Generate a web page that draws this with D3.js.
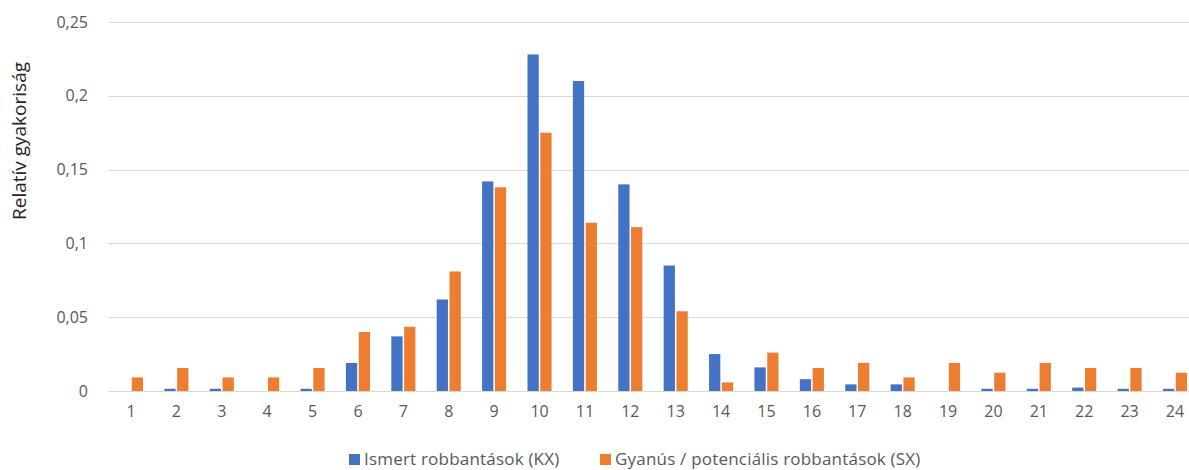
<!DOCTYPE html>
<html>
<head>
<meta charset="utf-8">
<script src="https://cdn.jsdelivr.net/npm/d3@7"></script>
<style>
  html, body { margin: 0; padding: 0; background: #fff; overflow: hidden; }
  svg { display: block; font-family: "Open Sans", "Noto Sans", sans-serif; }
</style>
</head>
<body>
<svg id="chart" width="1189" height="470"></svg>
<script>
const categories = ["1","2","3","4","5","6","7","8","9","10","11","12","13","14","15","16","17","18","19","20","21","22","23","24"];
const seriesNames = ["Ismert robbantások (KX)", "Gyanús / potenciális robbantások (SX)"];
const knownKX = [0, 0.0015, 0.0015, 0, 0.0015, 0.019, 0.037, 0.062, 0.142, 0.228, 0.210, 0.140, 0.085, 0.025, 0.016, 0.008, 0.0045, 0.0045, 0, 0.0015, 0.0015, 0.0023, 0.0015, 0.0015];
const suspectSX = [0.0092, 0.0156, 0.0092, 0.0092, 0.0156, 0.040, 0.0435, 0.081, 0.138, 0.175, 0.114, 0.111, 0.054, 0.0058, 0.026, 0.0156, 0.019, 0.0092, 0.019, 0.0124, 0.019, 0.0156, 0.0156, 0.0124];
const yTicks = [0, 0.05, 0.1, 0.15, 0.2, 0.25];
const yLabel = "Relatív gyakoriság";
const colors = ["#4472C4", "#ED7D31"];

(function () {
const svg = d3.select("#chart");
const W = 1189;
const mLeft = 108.3, mRight = 1197.7, mTop = 22, mBottom = 391;

const x0 = d3.scaleBand().domain(categories).range([mLeft, mRight]).paddingInner(0.47).paddingOuter(0.235);
const x1 = d3.scaleBand().domain([0, 1]).range([0, x0.bandwidth()]).paddingInner(0.12);
const y = d3.scaleLinear().domain([0, 0.25]).range([mBottom, mTop]);

const fmt = v => String(+v.toFixed(2)).replace(".", ",");

// gridlines
svg.append("g").selectAll("line").data(yTicks).join("line")
  .attr("x1", mLeft).attr("x2", W)
  .attr("y1", d => Math.round(y(d)) + 0.5).attr("y2", d => Math.round(y(d)) + 0.5)
  .attr("stroke", "#D9D9D9").attr("stroke-width", 1);

// y axis labels
const yAxis = d3.axisLeft(y).tickValues(yTicks).tickFormat(fmt).tickSize(0).tickPadding(0);
const gy = svg.append("g").attr("transform", `translate(88,0)`).call(yAxis);
gy.select(".domain").remove();
gy.selectAll("text").attr("fill", "#595959").style("font-size", "16px").style("font-family", "'Open Sans', sans-serif");

// x axis labels
const xAxis = d3.axisBottom(x0).tickSize(0).tickPadding(0);
const gx = svg.append("g").attr("transform", `translate(0,${mBottom + 15})`).call(xAxis);
gx.select(".domain").remove();
gx.selectAll("text").attr("fill", "#595959").style("font-size", "16px").style("font-family", "'Open Sans', sans-serif");

// bars
const data = categories.map((c, i) => ({ c, vals: [knownKX[i], suspectSX[i]] }));
const groups = svg.append("g").selectAll("g").data(data).join("g")
  .attr("transform", d => `translate(${x0(d.c)},0)`);
groups.selectAll("rect").data(d => d.vals.map((v, k) => ({ v, k }))).join("rect")
  .attr("x", d => x1(d.k))
  .attr("width", x1.bandwidth())
  .attr("y", d => y(d.v))
  .attr("height", d => mBottom - y(d.v))
  .attr("fill", d => colors[d.k]);

// y label
svg.append("text")
  .attr("transform", `translate(26,141) rotate(-90)`)
  .attr("text-anchor", "middle")
  .attr("fill", "#262626")
  .style("font-size", "19px")
  .text(yLabel);

// legend
const legendItems = [{ x: 349, name: seriesNames[0], color: colors[0] }, { x: 600, name: seriesNames[1], color: colors[1] }];
const lg = svg.append("g").selectAll("g").data(legendItems).join("g")
  .attr("transform", d => `translate(${d.x},454)`);
lg.append("rect").attr("width", 11).attr("height", 11).attr("fill", d => d.color);
lg.append("text").attr("x", 15).attr("y", 11).attr("fill", "#595959")
  .style("font-size", "17px").style("letter-spacing", "0.2px").text(d => d.name);
})();
</script>
</body>
</html>
